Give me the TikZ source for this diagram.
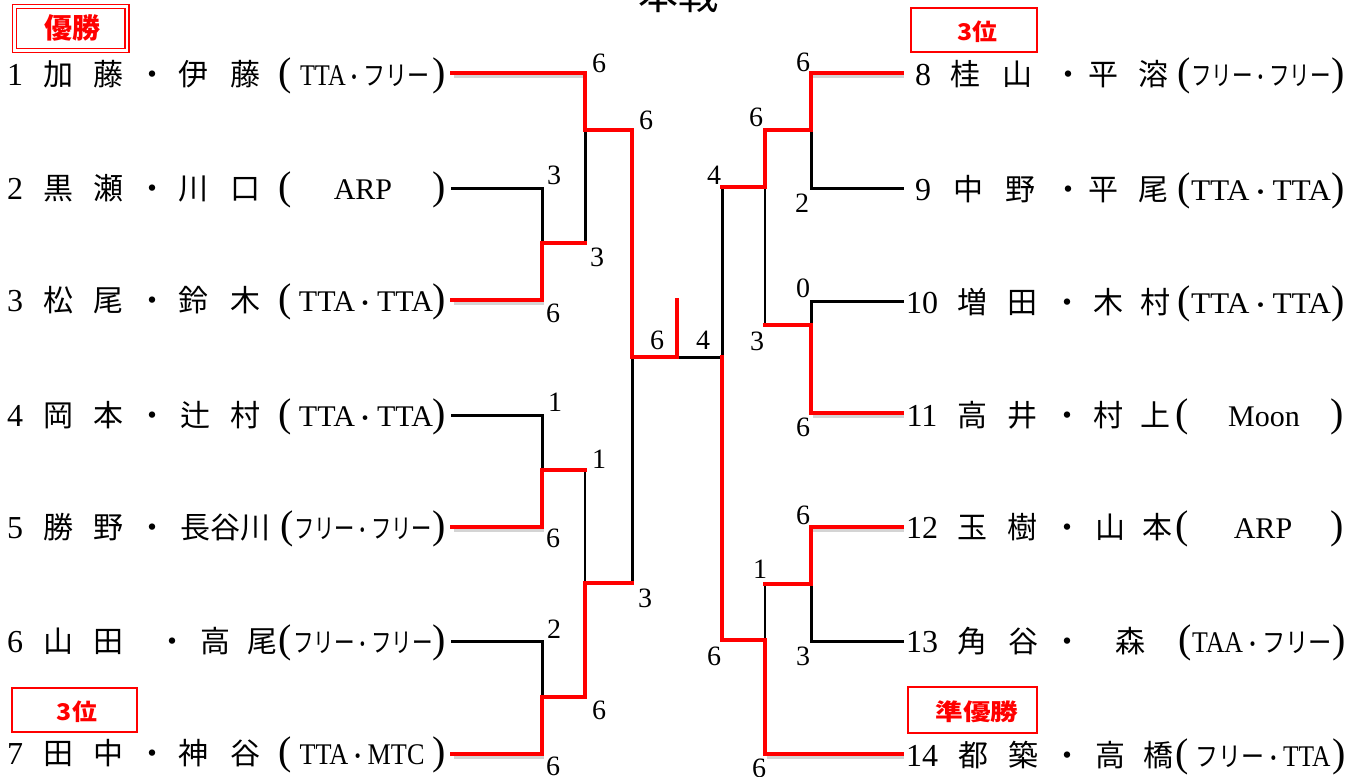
\documentclass[tikz,border=0pt]{standalone}
\usepackage{fontspec}
\usepackage{graphicx}
\setmainfont{Liberation Serif}
\newfontfamily\jp{Noto Sans CJK JP}
\newcommand\fitw[2]{\resizebox{#1}{\height}{#2}}
\newcommand\kt[1]{{\jp\fontsize{27}{27}\selectfont #1}}
\newcommand\md{{\jp\fontsize{22}{22}\selectfont ・}}
\newcommand\prow[9]{%
  \node[num] (#1n) at (#3,#2) {#4};
  \foreach \xx/\cc [count=\k] in {#5} {\node[nm] (#1c\k) at (\xx,#2) {\cc};}
  \node[par] (#1o) at (#6,#2) {(};
  \node[cont] (#1t) at (#7,#2) {#8};
  \node[par] (#1p) at (#9,#2) {)};
}
\tikzset{
  nm/.style={anchor=base, inner sep=0pt, font=\jp\fontsize{30}{30}\selectfont},
  num/.style={anchor=base, inner sep=0pt, font=\fontsize{32}{32}\selectfont},
  par/.style={anchor=base, inner sep=0pt, font=\fontsize{40}{40}\selectfont},
  cont/.style={anchor=base, inner sep=0pt, font=\fontsize{30}{30}\selectfont},
  sc/.style={inner sep=0pt, font=\fontsize{28}{28}\selectfont},
  award/.style={inner sep=0pt, text=red, font=\jp\bfseries\fontsize{23}{23}\selectfont},
  blk/.style={line width=3pt, line cap=rect, line join=miter},
  blt/.style={line width=1.8pt, line cap=rect, line join=miter},
  rd/.style={line width=4.2pt, red, line cap=rect, line join=miter},
  shd/.style={line width=3.5pt, black!30, opacity=0.55},
}
\begin{document}
\begin{tikzpicture}[x=1pt,y=-1pt]
\useasboundingbox (0,0) rectangle (1359,776);
\fill[white] (0,0) rectangle (1359,776);

% title
\node[anchor=base, inner sep=0pt, font=\jp\fontsize{40}{40}\selectfont] (title) at (678,10) {本戦};

% award boxes
\node[draw=red, line width=1.3pt, double=white, double distance=2.7pt, minimum width=112.5pt, minimum height=44pt, inner sep=0pt] (winbox) at (70.75,28.5) {};
\node[award, font=\jp\bfseries\fontsize{28}{28}\selectfont] (win) at (72,28) {優勝};
\node[draw=red, line width=1.5pt, minimum width=125pt, minimum height=44pt, inner sep=0pt] (thirdLbox) at (74.5,710) {};
\node[award] (thirdL) at (77,712) {\fitw{40pt}{3位}};
\node[draw=red, line width=1.5pt, minimum width=126pt, minimum height=44pt, inner sep=0pt] (thirdRbox) at (974,30) {};
\node[award] (thirdR) at (977,32) {\fitw{40pt}{3位}};
\node[draw=red, line width=2.5pt, minimum width=129pt, minimum height=46pt, inner sep=0pt] (runnerbox) at (972.5,710) {};
\node[award] (runner) at (977,712) {\fitw{83pt}{準優勝}};

% names, left
\prow{L1}{85}{15}{1}{58/加,108/藤,152/・,193/伊,245/藤}{285}{365}{\fitw{130pt}{TTA\md\kt{フリー}}}{439}
\prow{L2}{199}{15}{2}{58/黒,108/瀬,152/・,193/川,245/口}{285}{363}{ARP}{439}
\prow{L3}{311}{15}{3}{58/松,108/尾,152/・,193/鈴,245/木}{285}{366}{\fitw{134pt}{TTA\md TTA}}{439}
\prow{L4}{426}{15}{4}{58/岡,108/本,152/・,195/辻,245/村}{285}{366}{\fitw{134pt}{TTA\md TTA}}{439}
\prow{L5}{538}{15}{5}{58/勝,108/野,152/・,225/長谷川}{287}{363}{\fitw{138pt}{\kt{フリー}\md\kt{フリー}}}{439}
\prow{L6}{652}{15}{6}{58/山,108/田,172/・,215/高,262/尾}{285}{363}{\fitw{140pt}{\kt{フリー}\md\kt{フリー}}}{439}
\prow{L7}{764}{15}{7}{58/田,108/中,152/・,193/神,245/谷}{285}{362}{\fitw{125pt}{TTA\md MTC}}{439}

% names, right
\prow{R8}{85}{923}{8}{965/桂,1017/山,1068/・,1103/平,1153/溶}{1184}{1261}{\fitw{140pt}{\kt{フリー}\md\kt{フリー}}}{1338}
\prow{R9}{200}{923}{9}{968/中,1020/野,1068/・,1103/平,1153/尾}{1184}{1261}{\fitw{140pt}{TTA\md TTA}}{1338}
\prow{R10}{313}{922}{10}{972/増,1022/田,1067/・,1108/木,1155/村}{1184}{1261}{\fitw{140pt}{TTA\md TTA}}{1338}
\prow{R11}{426}{922}{11}{972/高,1022/井,1067/・,1108/村,1155/上}{1182}{1264}{Moon}{1337}
\prow{R12}{538}{922}{12}{972/玉,1022/樹,1067/・,1110/山,1157/本}{1182}{1263}{ARP}{1337}
\prow{R13}{652}{922}{13}{972/角,1023/谷,1067/・,1130/森}{1185}{1262}{\fitw{140pt}{TAA\md\kt{フリー}}}{1339}
\prow{R14}{766}{922}{14}{973/都,1023/築,1067/・,1110/高,1158/橋}{1182}{1263}{\fitw{135pt}{\kt{フリー}\md TTA}}{1339}

% line end coordinates
\coordinate (a1) at (452,73);  \coordinate (a2) at (452,188);
\coordinate (a3) at (452,300); \coordinate (a4) at (452,415);
\coordinate (a5) at (452,527); \coordinate (a6) at (452,641);
\coordinate (a7) at (452,754);
\coordinate (b8) at (902,73);  \coordinate (b9) at (902,188);
\coordinate (b10) at (902,301); \coordinate (b11) at (902,413);
\coordinate (b12) at (902,527); \coordinate (b13) at (902,641);
\coordinate (b14) at (902,754);
\coordinate (fl) at (677,357); \coordinate (fr) at (722,357);

% shadows
\foreach \p/\q in {a1/585, a3/542, a5/542, a7/542} {
  \draw[shd] ([shift={(1.5,3)}]\p) -- ([shift={(1.5,3)}]\p -| \q,0);
}
\foreach \p/\q in {b8/811, b11/811, b12/811, b14/765} {
  \draw[shd] ([shift={(1.5,3)}]\p) -- ([shift={(1.5,3)}]\p -| \q,0);
}

% black lines (left)
\draw[blk] (a2) -| (542,243);
\draw[blk] (585,130) -- (585,243);
\draw[blk] (a4) -| (542,470);
\draw[blt] (585,470) -- (585,583);
\draw[blk] (a6) -| (542,697);
\draw[blk] (632,583) -- (632,357);
\draw[blk] (fl) -- (fr);
% black lines (right)
\draw[blk] (fr) -- (722,187);
\draw[blk] (b9) -| (811,73);
\draw[blt] (765,187) -- (765,325);
\draw[blk] (b10) -| (811,325);
\draw[blt] (765,640) -- (765,584);
\draw[blk] (b13) -| (811,527);

% red lines (left)
\draw[rd] (a1) -- (585,73) -- (585,130) -- (632,130) -- (632,357) -- (fl) -- (677,300);
\draw[rd] (a3) -- (542,300) -- (542,243) -- (585,243);
\draw[rd] (a5) -- (542,527) -- (542,470) -- (585,470);
\draw[rd] (a7) -- (542,754) -- (542,697) -- (585,697) -- (585,583) -- (632,583);
% red lines (right)
\draw[rd] (722,187) -- (765,187) -- (765,130) -- (811,130) -- (811,73) -- (b8);
\draw[rd] (765,325) -- (811,325) -- (811,413) -- (b11);
\draw[rd] (fr) -- (722,640) -- (765,640) -- (765,754) -- (b14);
\draw[rd] (765,584) -- (811,584) -- (811,527) -- (b12);

% scores
\node[sc] (s1) at (599,63) {6};
\node[sc] (s2) at (646,120) {6};
\node[sc] (s3) at (554,175) {3};
\node[sc] (s4) at (597,257) {3};
\node[sc] (s5) at (553,313) {6};
\node[sc] (s6) at (657,340) {6};
\node[sc] (s7) at (703,340) {4};
\node[sc] (s8) at (555,402) {1};
\node[sc] (s9) at (599,459) {1};
\node[sc] (s10) at (553,538) {6};
\node[sc] (s11) at (645,598) {3};
\node[sc] (s12) at (554,629) {2};
\node[sc] (s13) at (599,710) {6};
\node[sc] (s14) at (553,766) {6};
\node[sc] (s15) at (714,175) {4};
\node[sc] (s16) at (756,117) {6};
\node[sc] (s17) at (803,62) {6};
\node[sc] (s18) at (802,203) {2};
\node[sc] (s19) at (803,288) {0};
\node[sc] (s20) at (757,341) {3};
\node[sc] (s21) at (803,427) {6};
\node[sc] (s22) at (803,515) {6};
\node[sc] (s23) at (760,569) {1};
\node[sc] (s24) at (803,656) {3};
\node[sc] (s25) at (714,656) {6};
\node[sc] (s26) at (759,768) {6};
\end{tikzpicture}
\end{document}
